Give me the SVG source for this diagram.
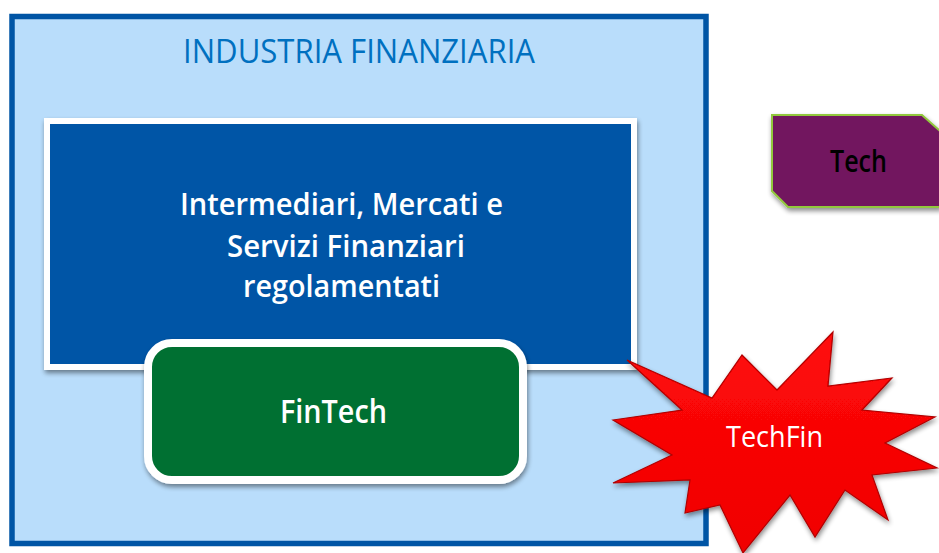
<svg xmlns="http://www.w3.org/2000/svg" width="939" height="553" viewBox="0 0 939 553">
  <defs>
    <style>
      text { font-family: "Open Sans", "Noto Sans", "Liberation Sans", sans-serif; text-anchor: middle; }
      .title { fill: #0070C0; font-size: 32px; font-weight: 500; }
      .wtxt { fill: #FFFFFF; font-size: 30px; font-weight: 600; }
      .btxt { fill: #000000; font-size: 30px; font-weight: 600; }
      .star { fill: #FFFFFF; font-size: 30px; font-weight: 400; }
    </style>
    <filter id="shadow" x="-10%" y="-10%" width="125%" height="130%">
      <feGaussianBlur in="SourceAlpha" stdDeviation="2.5"/>
      <feOffset dx="1" dy="3" result="b"/>
      <feComponentTransfer><feFuncA type="linear" slope="0.45"/></feComponentTransfer>
      <feMerge><feMergeNode/><feMergeNode in="SourceGraphic"/></feMerge>
    </filter>
    <linearGradient id="starGrad" x1="0" y1="0" x2="0" y2="1">
      <stop offset="0" stop-color="#FF0A0A"/>
      <stop offset="1" stop-color="#F00000"/>
    </linearGradient>
  </defs>

  <g id="industria">
    <rect x="12" y="16.5" width="694" height="527" fill="#B9DDFB" stroke="#0055A5" stroke-width="5.5"/>
    <text class="title" x="359" y="63" textLength="352" lengthAdjust="spacingAndGlyphs">INDUSTRIA FINANZIARIA</text>
  </g>

  <g id="intermediari">
    <rect x="47" y="121" width="587" height="246" fill="#0054A6" stroke="#FFFFFF" stroke-width="6" filter="url(#shadow)"/>
    <text class="wtxt" x="341.5" y="215" textLength="323" lengthAdjust="spacingAndGlyphs">Intermediari, Mercati e</text>
    <text class="wtxt" x="346" y="257" textLength="238" lengthAdjust="spacingAndGlyphs">Servizi Finanziari</text>
    <text class="wtxt" x="341.5" y="297" textLength="197" lengthAdjust="spacingAndGlyphs">regolamentati</text>
  </g>

  <g id="fintech">
    <rect x="148" y="343" width="375" height="137" rx="24" ry="24" fill="#007033" stroke="#FFFFFF" stroke-width="8" filter="url(#shadow)"/>
    <text class="wtxt" x="333.5" y="423" style="font-size:33px" textLength="107" lengthAdjust="spacingAndGlyphs">FinTech</text>
  </g>

  <g id="tech">
    <polygon points="772,115 922,115 940,131 940,207 788,207 772,191" fill="#72185F" stroke="#92C83E" stroke-width="2" filter="url(#shadow)"/>
    <text class="btxt" x="858.5" y="172" textLength="57" lengthAdjust="spacingAndGlyphs">Tech</text>
  </g>

  <g id="techfin">
    <polygon points="627,360 712,398 742,355 777,390 833,332 828,386 892,378 862,410 935,417 885,443 937,468 872,475 888,520 845,490 815,537 790,495 743,553 720,505 685,513 690,480 613,483 672,455 613,420 682,410"
      fill="url(#starGrad)" stroke="#B00000" stroke-width="1.2" stroke-linejoin="miter" filter="url(#shadow)"/>
    <text class="star" x="774.5" y="447" textLength="97" lengthAdjust="spacingAndGlyphs">TechFin</text>
  </g>

  <g id="connectors"/>
</svg>
